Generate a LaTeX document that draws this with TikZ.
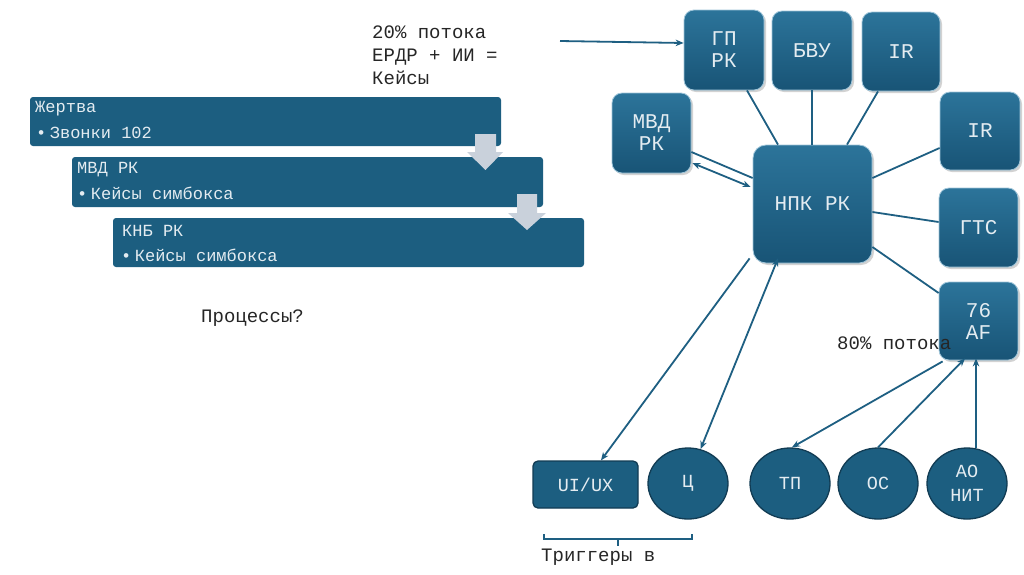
\documentclass[tikz,border=0pt]{standalone}
\usepackage{fontspec}
\setmainfont{Liberation Mono}
\usetikzlibrary{shapes.geometric,arrows.meta,shadows,calc}
\definecolor{listblue}{RGB}{28,94,128}
\definecolor{boxtop}{RGB}{44,116,154}
\definecolor{boxbot}{RGB}{24,84,118}
\definecolor{boxedge}{RGB}{160,198,218}
\definecolor{lightfg}{RGB}{228,236,241}
\definecolor{linecol}{RGB}{30,95,130}
\definecolor{darkedge}{RGB}{18,60,84}
\definecolor{greyarrow}{RGB}{201,209,219}
\tikzset{
  gbox/.style={rounded corners=10pt, top color=boxtop, bottom color=boxbot,
    draw=boxedge, line width=0.8pt, text=lightfg, align=center,
    font=\fontsize{21}{22}\selectfont, inner sep=0pt,
    drop shadow={opacity=0.35, shadow xshift=2pt, shadow yshift=-2pt}},
  listbox/.style={fill=listblue, rounded corners=3pt},
  listtxt/.style={anchor=west, inner sep=0pt, text=lightfg, font=\fontsize{17}{20}\selectfont},
  plain/.style={anchor=west, inner sep=0pt, text=black!85, font=\fontsize{19}{23}\selectfont, align=left},
  circ/.style={ellipse, fill=listblue, draw=darkedge, line width=1.3pt, minimum width=80pt,
    minimum height=71pt, inner sep=0pt, text=lightfg, align=center, font=\fontsize{18.5}{24}\selectfont},
  conn/.style={draw=linecol, line width=1.8pt},
  arr/.style={conn, -{Stealth[length=8pt,width=6.5pt]}},
  darr/.style={conn, {Stealth[length=8pt,width=6.5pt]}-{Stealth[length=8pt,width=6.5pt]}},
}
\begin{document}
\begin{tikzpicture}[x=1pt,y=-1pt]
\useasboundingbox (0,0) rectangle (1024,574);
\fill[white] (0,0) rectangle (1024,574);

% list boxes
\fill[listbox] (30,97) rectangle (501,146);
\fill[listbox] (72,157) rectangle (543,207);
\fill[listbox] (113,218) rectangle (584,267);
\node[listtxt] (l1a) at (35,109) {Жертва};
\node[listtxt] (l1b) at (36,133) {•\hspace{3.5pt}Звонки 102};
\node[listtxt] (l2a) at (77,170) {МВД РК};
\node[listtxt] (l2b) at (77,193) {•\hspace{3.5pt}Кейсы симбокса};
\node[listtxt] (l3a) at (122,231) {КНБ РК};
\node[listtxt] (l3b) at (121,255) {•\hspace{3.5pt}Кейсы симбокса};
\fill[greyarrow] (475,134) -- (496,134) -- (496,152) -- (503,152) -- (485.5,170) -- (467,152) -- (475,152) -- cycle;
\fill[greyarrow] (517,194) -- (537,194) -- (537,213) -- (546,213) -- (527,230) -- (508,213) -- (517,213) -- cycle;

% plain texts
\node[plain] (t20) at (372,55) {20\% потока\\ЕРДР + ИИ =\\Кейсы};
\node[plain] (proc) at (201,318) {Процессы?};
\coordinate (arrstart) at (560,41);

% right cluster
\node[gbox, minimum width=80pt, minimum height=80pt] (gp) at (724,50) {ГП\\РК};
\node[gbox, minimum width=80pt, minimum height=79pt] (bvu) at (812,50.5) {БВУ};
\node[gbox, minimum width=78pt, minimum height=79pt] (ir1) at (901,51.5) {IR};
\node[gbox, minimum width=79pt, minimum height=80pt] (mvd) at (651.5,133) {МВД\\РК};
\node[gbox, minimum width=80pt, minimum height=78pt] (ir2) at (980,131) {IR};
\node[gbox, minimum width=119pt, minimum height=118pt, rounded corners=13pt] (npk) at (812.5,204) {НПК РК};
\node[gbox, minimum width=79pt, minimum height=79pt] (gts) at (978.5,227.5) {ГТС};
\node[gbox, minimum width=79pt, minimum height=78pt] (af) at (978.5,321) {76\\AF};

\draw[arr] (arrstart) -- ([yshift=7pt]gp.west);

\draw[conn] ([xshift=23pt]gp.south) -- ([xshift=-34.5pt]npk.north);
\draw[conn] (bvu.south) -- (bvu.south |- npk.north);
\draw[conn] ([xshift=-23pt]ir1.south) -- ([xshift=34.5pt]npk.north);
\draw[conn] ([yshift=-17pt]ir2.west) -- ([yshift=26pt]npk.east);
\draw[conn] ([yshift=-8pt]npk.east) -- ([yshift=5.5pt]gts.west);
\draw[conn] ([yshift=-43pt]npk.east) -- ([yshift=28pt]af.west);
\draw[conn] ([yshift=-19pt]mvd.east) -- ([yshift=26pt]npk.west);
\draw[darr] ([yshift=-30pt,xshift=1pt]mvd.east) -- ([yshift=17pt,xshift=-2pt]npk.west);

\node[plain] (p80) at (837,343) {80\% потока};

% bottom nodes
\node[fill=listblue, draw=darkedge, line width=1.3pt, rounded corners=5pt, minimum width=105pt,
  minimum height=47pt, inner sep=0pt, text=lightfg, font=\fontsize{18.5}{24}\selectfont] (ui) at (585.5,484.5) {UI/UX};
\node[circ] (c) at (688,483.5) {Ц};
\node[circ] (tp) at (790,483.5) {ТП};
\node[circ] (os) at (878,483.5) {ОС};
\node[circ] (ao) at (967,483.5) {АО\\НИТ};

\draw[arr] ([xshift=-3pt,yshift=5pt]npk.south west) -- ([xshift=15.5pt]ui.north);
\draw[darr] ([xshift=-34.5pt,yshift=5pt]npk.south) -- (c.70);
\draw[arr] ([xshift=4pt,yshift=-1pt]af.south west) -- (tp.87);
\draw[arr] (os.north) -- ([xshift=-13.5pt,yshift=2pt]af.south);
\draw[arr] ($(ao.north)+(9,1)$) -- ([xshift=-2.5pt,yshift=2pt]af.south);

% bracket
\coordinate (bl) at (544,534);
\coordinate (br) at (692,534);
\draw[draw=linecol, line width=1.4pt] (bl) -- (544,539) -- (692,539) -- (br);
\draw[draw=linecol, line width=1.4pt] (618,539) -- (618,546);
\node[plain] (trig) at (541,557) {Триггеры в};
\end{tikzpicture}
\end{document}
